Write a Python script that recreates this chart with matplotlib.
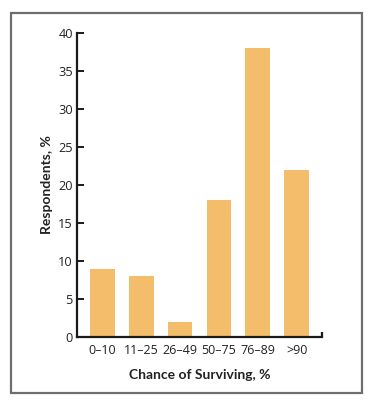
import matplotlib

matplotlib.use("Agg")
import matplotlib.pyplot as plt
from matplotlib.patches import Rectangle

categories = ["0\u201310", "11\u201325", "26\u201349", "50\u201375", "76\u201389", ">90"]
respondents = [9, 8, 2, 18, 38, 22]
yticks = [0, 5, 10, 15, 20, 25, 30, 35, 40]

plt.rcParams["font.family"] = ["Open Sans", "DejaVu Sans"]
LABEL_FONT = ["Lato", "DejaVu Sans"]

fig = plt.figure(figsize=(3.78, 4.0), dpi=100)
ax = fig.add_axes([77 / 378, 1 - 337 / 400, 245 / 378, 304 / 400])

# outer frame around the whole figure
fig.patches.append(Rectangle((11 / 378, 1 - 393 / 400), 351 / 378, 380 / 400,
                             transform=fig.transFigure, fill=False,
                             edgecolor="#6e6e6e", lw=1.6))

x = range(len(categories))
ax.bar(x, respondents, width=0.64, color="#f4bd6b", edgecolor="none")

ax.set_xlim(-0.65, len(categories) - 0.35)
ax.set_ylim(0, 40)
ax.set_yticks(yticks)
ax.set_xticks(list(x))
ax.set_xticklabels(categories)

for side in ("top", "right"):
    ax.spines[side].set_visible(False)
for side in ("left", "bottom"):
    ax.spines[side].set_linewidth(1.6)
    ax.spines[side].set_color("#1a1a1a")

ax.tick_params(axis="y", direction="in", length=5, width=1.4, color="#1a1a1a",
               labelsize=9.2, pad=3, labelcolor="#222222")
ax.tick_params(axis="x", length=0, labelsize=9, pad=5, labelcolor="#222222")
# closing tick at the right end of the x axis
ax.plot([1, 1], [0, 0.018], transform=ax.transAxes, color="#1a1a1a", lw=1.6,
        clip_on=False, solid_capstyle="butt")

ax.set_ylabel("Respondents, %", fontsize=10, fontweight="bold", labelpad=4,
              color="#222222", family=LABEL_FONT)
ax.set_xlabel("Chance of Surviving, %", fontsize=10, fontweight="bold",
              labelpad=9, color="#222222", family=LABEL_FONT)

fig.savefig("out.png", dpi=100)
